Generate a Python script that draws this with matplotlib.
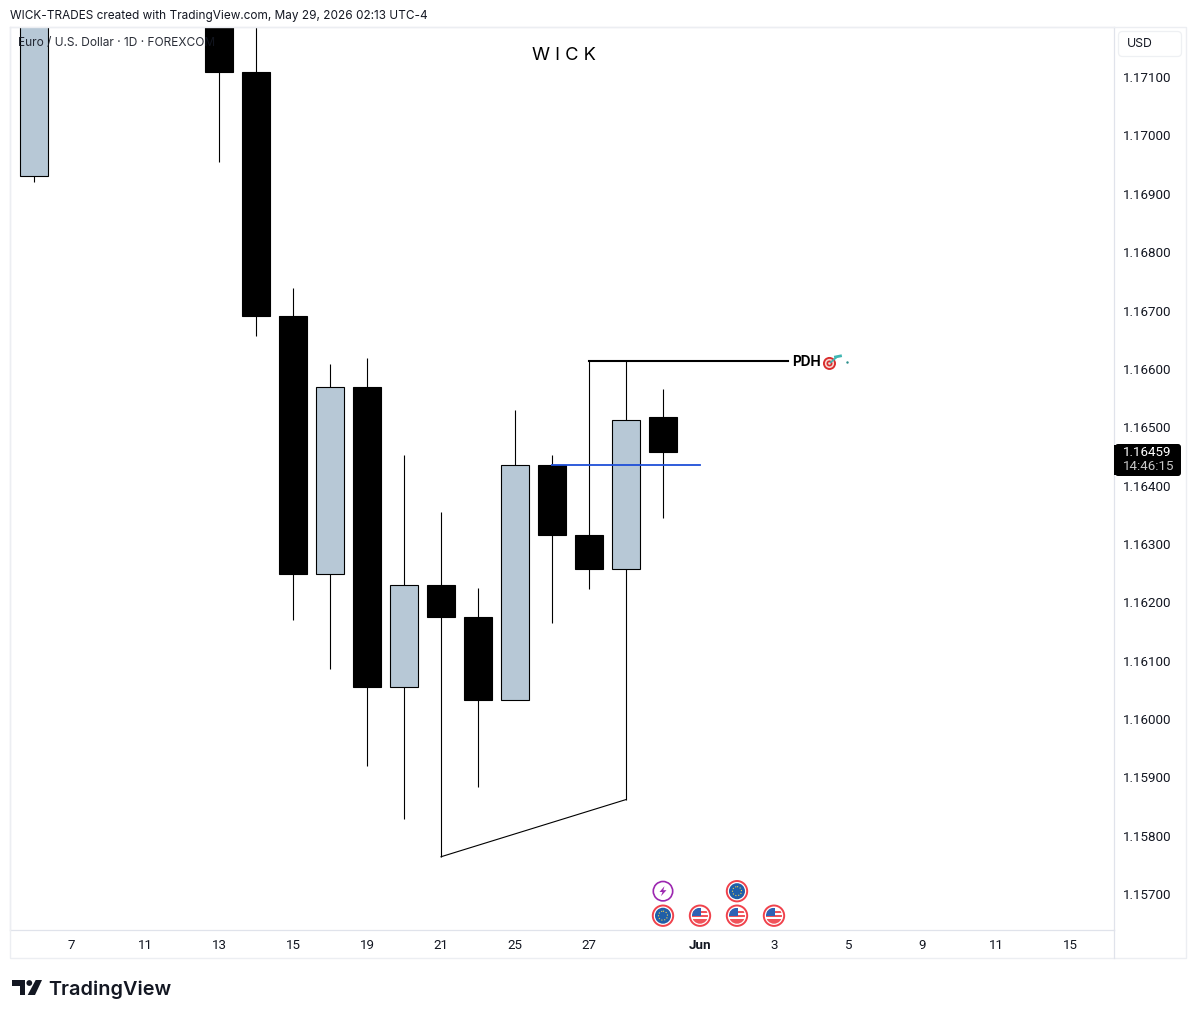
import matplotlib
matplotlib.use('Agg')
import matplotlib.pyplot as plt
from matplotlib.patches import Circle, FancyBboxPatch, Polygon, Rectangle

W, H = 1196, 1018
UP_COLOUR, DOWN_COLOUR = '#b7c8d6', '#000000'
GRID = '#e0e3eb'
TEXT = '#131722'

# trading day slots, only the candles that show on screen
idx = [0, 5, 6, 7, 8, 9, 10, 11, 12, 13, 14, 15, 16, 17]
opens = [1.16930, 1.17300, 1.17109, 1.16691, 1.16248, 1.16569, 1.16055, 1.16230,
         1.16174, 1.16032, 1.16436, 1.16315, 1.16257, 1.16518]
highs = [1.17400, 1.17350, 1.17300, 1.16738, 1.16609, 1.16618, 1.16453, 1.16354,
         1.16225, 1.16529, 1.16453, 1.16613, 1.16613, 1.16565]
lows = [1.16921, 1.16954, 1.16657, 1.16169, 1.16085, 1.15920, 1.15828, 1.15764,
        1.15883, 1.16032, 1.16164, 1.16222, 1.15862, 1.16344]
closes = [1.17300, 1.17109, 1.16691, 1.16248, 1.16569, 1.16055, 1.16230, 1.16174,
          1.16032, 1.16436, 1.16315, 1.16257, 1.16512, 1.16457]

x_tick_pos = [1, 3, 5, 7, 9, 11, 13, 15, 18, 20, 22, 24, 26, 28]
x_tick_labels = ['7', '11', '13', '15', '19', '21', '25', '27', 'Jun', '3', '5', '9', '11', '15']
y_ticks = [1.157, 1.158, 1.159, 1.160, 1.161, 1.162, 1.163, 1.164, 1.165, 1.166, 1.167,
           1.168, 1.169, 1.170, 1.171]

trend_x, trend_y = [11, 16], [1.15764, 1.15862]
pdh_x, pdh_y = [15, 20.38], [1.16613, 1.16613]
blue_x, blue_y = [14, 18], [1.16436, 1.16436]

# event icons: slot, row price, kind
event_idx = [17, 17, 18, 19, 19, 20]
event_price = [1.15705, 1.15663, 1.15663, 1.15705, 1.15663, 1.15663]
event_kind = ['bolt', 'eu', 'us', 'eu', 'us', 'us']

plt.rcParams['font.family'] = ['Inter', 'DejaVu Sans']

fig = plt.figure(figsize=(W / 100, H / 100), dpi=100, facecolor='white')
ax = fig.add_axes([10 / W, 1 - 930 / H, 1104 / W, 903 / H])
ax.set_xlim(-0.649, 29.19)
ax.set_ylim(1.156385, 1.171858)

for i, o, h, l, c in zip(idx, opens, highs, lows, closes):
    colour = UP_COLOUR if c > o else DOWN_COLOUR
    ax.vlines(i, l, h, color='black', lw=0.8, zorder=2)
    ax.bar(i, abs(c - o), bottom=min(o, c), width=0.76, color=colour,
           edgecolor='black', lw=0.8, zorder=3)

ax.plot(trend_x, trend_y, color='black', lw=0.8, zorder=2)
ax.plot(pdh_x, pdh_y, color='black', lw=1.5, zorder=4)
ax.plot(blue_x, blue_y, color='#1f4fd8', lw=1.3, zorder=4)
ax.text(20.5, 1.16611, 'PDH', fontsize=9.8, fontweight='bold', color='black',
        va='center', ha='left')

ax.yaxis.tick_right()
ax.set_yticks(y_ticks)
ax.set_yticklabels(['%.5f' % v for v in y_ticks], family='Roboto')
ax.set_xticks(x_tick_pos)
ax.set_xticklabels(x_tick_labels, family='Roboto')
ax.tick_params(axis='y', length=0, pad=6.2, labelsize=9.6, labelcolor=TEXT)
ax.tick_params(axis='x', length=0, pad=6.5, labelsize=9.6, labelcolor=TEXT)
ax.get_xticklabels()[8].set_fontweight('bold')
for s in ax.spines.values():
    s.set_color(GRID)
    s.set_linewidth(0.9)

# overlay in pixels for the TradingView frame, header and logo
ov = fig.add_axes([0, 0, 1, 1], facecolor='none')
ov.set_xlim(0, W)
ov.set_ylim(H, 0)
ov.axis('off')
ov.add_patch(Rectangle((10, 27), 1176, 931, fill=False, ec='#eceef2', lw=1))
ov.plot([1114, 1114], [930, 958], color=GRID, lw=0.9)

ov.text(10, 15.5, 'WICK-TRADES created with TradingView.com, May 29, 2026 02:13 UTC-4',
        fontsize=8.5, color=TEXT, va='center')
ov.text(18, 43, 'Euro / U.S. Dollar · 1D · FOREXCOM', fontsize=8.6, color=TEXT,
        va='center', alpha=0.9)
ov.text(563.5, 55, 'W I C K', fontsize=13.2, color='black', va='center', ha='center')

ov.add_patch(FancyBboxPatch((1120, 33), 60, 22, boxstyle='round,pad=1.5,rounding_size=4',
                            fc='white', ec='#eef0f3', lw=0.9))
ov.text(1127, 43.5, 'USD', fontsize=8.8, color=TEXT, va='center')

# last price label
ov.add_patch(FancyBboxPatch((1116, 445), 64, 30, boxstyle='round,pad=1,rounding_size=3',
                            fc='black', ec='black', lw=0))
ov.add_patch(Rectangle((1114, 445), 6, 30, fc='black', ec='none'))
ov.text(1123, 452.5, '1.16459', fontsize=9.6, color='white', va='center', family='Roboto')
ov.text(1123, 466.5, '14:46:15', fontsize=9.6, color='#c8c8c8', va='center', family='Roboto')


def pos(i, price):
    # slot and price to overlay pixels
    p = ax.transData.transform((i, price))
    return ov.transData.inverted().transform(p)


for i, price, kind in zip(event_idx, event_price, event_kind):
    cx, cy = pos(i, price)
    if kind == 'bolt':
        ov.add_patch(Circle((cx, cy), 9.7, fc='white', ec='#9c27b0', lw=1.2))
        ov.add_patch(Polygon([(cx + 1.5, cy - 5), (cx - 3.5, cy + 0.8), (cx - 0.5, cy + 0.8),
                              (cx - 2, cy + 5), (cx + 3.5, cy - 1), (cx + 0.3, cy - 1)],
                             fc='#9c27b0', ec='none'))
        continue
    ov.add_patch(Circle((cx, cy), 10.2, fc='white', ec='#f0424c', lw=1.4))
    if kind == 'eu':
        ov.add_patch(Circle((cx, cy), 8, fc='#1f5fa8', ec='none'))
        ov.add_patch(Circle((cx, cy), 4.5, fc='none', ec='#f2d04b', lw=0.8, ls=':'))
    else:
        clip = Circle((cx, cy), 8, fc='white', ec='none')
        ov.add_patch(clip)
        for top, h in [(-5, 2), (-1, 2), (3, 5)]:
            r = Rectangle((cx - 8, cy + top), 16, h, fc='#f0535a', ec='none')
            ov.add_patch(r)
            r.set_clip_path(clip)
        canton = Rectangle((cx - 8, cy - 8), 9.5, 8.5, fc='#2f62b5', ec='none')
        ov.add_patch(canton)
        canton.set_clip_path(clip)

# target emoji next to PDH
tx, ty = pos(21.5, 1.16611)
for r, c in [(6.5, '#d92d2d'), (4.6, '#f7d9d4'), (3, '#d92d2d'), (1.3, '#f7d9d4')]:
    ov.add_patch(Circle((tx, ty + 1), r, fc=c, ec='none'))
ov.plot([tx + 1, tx + 7], [ty, ty - 5], color='#3fb6b2', lw=1.2)
ov.plot([tx + 6, tx + 11], [ty - 5.5, ty - 6.5], color='#3fb6b2', lw=2)
ov.plot([tx + 18], [ty - 0.5], marker='.', ms=1.5, color='#2a8f8c')

# logo
ov.add_patch(Polygon([(12, 980), (25, 980), (25, 995), (19.5, 995), (19.5, 985.8), (12, 985.8)],
                     fc=TEXT, ec='none'))
ov.add_patch(Circle((29.3, 983), 2.9, fc=TEXT, ec='none'))
ov.add_patch(Polygon([(35.7, 980), (42, 980), (35, 995), (27.7, 995)], fc=TEXT, ec='none'))
ov.text(48.5, 995, 'TradingView', fontsize=14.3, fontweight='semibold', color=TEXT, va='baseline')

fig.savefig('out.png', dpi=100)
